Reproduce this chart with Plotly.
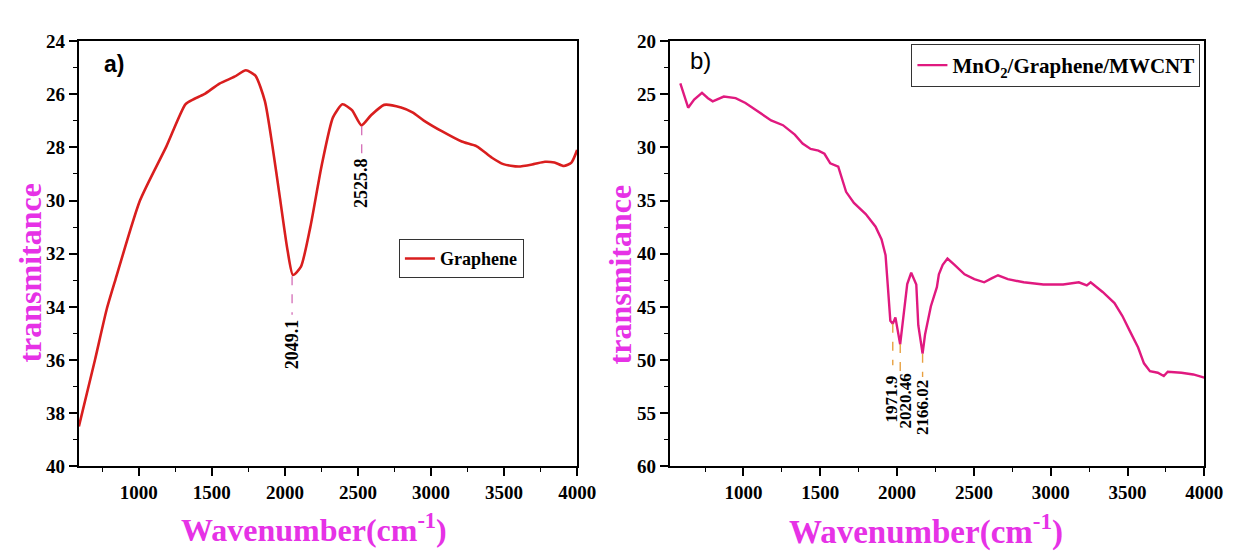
import plotly.graph_objects as go

# ---- Data: panel a) Graphene ----
g_x = [590, 700, 780, 839, 1008, 1189, 1319, 1370, 1448, 1552, 1655, 1733, 1798, 1863, 1915,
       1966, 2018, 2055, 2109, 2174, 2251, 2329, 2394, 2459, 2524, 2588, 2679, 2795, 2873,
       2951, 3080, 3210, 3313, 3417, 3495, 3598, 3702, 3780, 3845, 3909, 3961, 4000]
g_y = [38.5, 36.0, 34.1, 33.0, 30.0, 27.96, 26.38, 26.2, 26.0, 25.6, 25.34, 25.1, 25.3, 26.26, 27.96,
       29.9, 31.87, 32.8, 32.5, 31.0, 28.7, 26.87, 26.38, 26.6, 27.17, 26.8, 26.4, 26.5, 26.68,
       26.99, 27.41, 27.78, 27.96, 28.39, 28.63, 28.72, 28.63, 28.54, 28.57, 28.7, 28.57, 28.1]

# ---- Data: panel b) MnO2/Graphene/MWCNT ----
m_x = [589, 640, 679, 730, 769, 800, 872, 949, 1013, 1103, 1180, 1257, 1334, 1385, 1437, 1488,
       1527, 1565, 1617, 1668, 1719, 1796, 1860, 1899, 1925, 1940, 1956, 1972, 1989, 2020, 2048,
       2066, 2092, 2117, 2125, 2138, 2166, 2182, 2220, 2259, 2272, 2297, 2328, 2374, 2439, 2503,
       2567, 2618, 2657, 2721, 2824, 2952, 3081, 3183, 3235, 3260, 3338, 3415, 3466, 3517, 3569,
       3607, 3646, 3697, 3736, 3762, 3851, 3928, 4000]
m_y = [23.97, 26.27, 25.5, 24.87, 25.37, 25.67, 25.22, 25.37, 25.82, 26.72, 27.46, 27.91, 28.8, 29.64,
       30.15, 30.3, 30.6, 31.5, 31.8, 34.18, 35.22, 36.27, 37.46, 38.66, 40.15, 43.1, 46.3, 46.6, 45.99,
       48.52, 45.24, 42.85, 41.79, 42.54, 42.9, 46.73, 49.4, 47.6, 44.94, 43.15, 41.94, 41.04, 40.45,
       41.04, 41.94, 42.39, 42.69, 42.3, 42.03, 42.39, 42.69, 42.9, 42.9, 42.69, 42.99, 42.7, 43.6,
       44.64, 45.84, 47.33, 48.82, 50.31, 51.06, 51.2, 51.5, 51.1, 51.2, 51.36, 51.66]

# ---- Tick labels ----
x_ticks = [1000, 1500, 2000, 2500, 3000, 3500, 4000]
ya_ticks = [24, 26, 28, 30, 32, 34, 36, 38, 40]
yb_ticks = [20, 25, 30, 35, 40, 45, 50, 55, 60]

# ---- Peak labels ----
g_peaks = [2049.1, 2525.8]
g_peak_y = [32.85, 27.2]
g_line_end = [34.3, 28.3]
g_label_x = [2049.1, 2525.8]
g_label_y = [35.4, 29.35]
g_labels = ["2049.1", "2525.8"]

m_peaks = [1971.9, 2020.46, 2166.02]
m_peak_y = [46.6, 48.5, 49.4]
m_line_end = [50.5, 51.3, 51.6]
m_label_x = [1962, 2052, 2170]
m_label_y = [53.7, 53.9, 54.5]
m_labels = ["1971.9", "2020.46", "2166.02"]

RED = "#d91e1e"
PINK = "#e0197f"
MAG = "#e632e6"
SERIF = "Liberation Serif, Times New Roman, serif"
SANS = "Liberation Sans, Arial, sans-serif"


def bold(vals):
    return ["<b>%s</b>" % v for v in vals]


fig = go.Figure()
fig.add_trace(go.Scatter(x=g_x, y=g_y, mode="lines", name="<b>Graphene</b>",
                         line=dict(color=RED, width=2.6, shape="spline", smoothing=0.6),
                         xaxis="x", yaxis="y", legend="legend"))
fig.add_trace(go.Scatter(x=m_x, y=m_y, mode="lines", name="<b>MnO<sub>2</sub>/Graphene/MWCNT</b>",
                         line=dict(color=PINK, width=2.4),
                         xaxis="x2", yaxis="y2", legend="legend2"))

ax_common = dict(showline=True, linewidth=2, linecolor="black", mirror=True,
                 ticks="outside", ticklen=8, tickwidth=1.5, tickcolor="black",
                 showgrid=False, zeroline=False,
                 tickfont=dict(family=SERIF, size=19, color="black", weight="bold"))
minor_common = dict(ticks="outside", ticklen=4, tickcolor="black", tickwidth=1.2)

fig.update_layout(
    width=1239, height=553, margin=dict(l=0, r=0, t=0, b=0),
    plot_bgcolor="white", paper_bgcolor="white", showlegend=True,
    xaxis=dict(domain=[0.0581, 0.4665], range=[590, 4000], tickvals=x_ticks, ticktext=bold(x_ticks),
               minor=dict(dtick=250, tick0=0, **minor_common), anchor="y", **ax_common),
    yaxis=dict(domain=[0.1573, 0.9566], range=[40, 24], tickvals=ya_ticks, ticktext=bold(ya_ticks),
               minor=dict(dtick=1, tick0=0, **minor_common), anchor="x", **ax_common),
    xaxis2=dict(domain=[0.5424, 0.9806], range=[520, 4000], tickvals=x_ticks, ticktext=bold(x_ticks),
                minor=dict(dtick=250, tick0=0, **minor_common), anchor="y2", **ax_common),
    yaxis2=dict(domain=[0.1573, 0.9566], range=[60, 20], tickvals=yb_ticks, ticktext=bold(yb_ticks),
                minor=dict(dtick=2.5, tick0=0, **minor_common), anchor="x2", **ax_common),
    legend=dict(x=397 / 1239, y=1 - 230 / 553, xanchor="left", yanchor="top", bgcolor="white",
                bordercolor="#333", borderwidth=1, tracegroupgap=0,
                font=dict(family=SERIF, size=18, color="black")),
    legend2=dict(x=1211 / 1239, y=1 - 27 / 553, xanchor="right", yanchor="top", bgcolor="white",
                 bordercolor="#333", borderwidth=1,
                 font=dict(family=SERIF, size=21, color="black")),
)

# dashed peak markers and labels
for px, py, pe, lx, ly, lab in zip(g_peaks, g_peak_y, g_line_end, g_label_x, g_label_y, g_labels):
    fig.add_shape(type="line", x0=px, x1=px, y0=py, y1=pe, xref="x", yref="y",
                  line=dict(color="#d060b0", width=1.2, dash="dash"))
    fig.add_annotation(x=lx, y=ly, xref="x", yref="y", text="<b>" + lab + "</b>", showarrow=False,
                       xanchor="center", yanchor="middle",
                       textangle=-90, font=dict(family=SERIF, size=18, color="black"))

for px, py, pe, lx, ly, lab in zip(m_peaks, m_peak_y, m_line_end, m_label_x, m_label_y, m_labels):
    fig.add_shape(type="line", x0=px, x1=px, y0=py, y1=pe, xref="x2", yref="y2",
                  line=dict(color="#e8a040", width=1.4, dash="dash"))
    fig.add_annotation(x=lx, y=ly, xref="x2", yref="y2", text="<b>" + lab + "</b>", showarrow=False,
                       xanchor="center", yanchor="middle",
                       textangle=-90, font=dict(family=SERIF, size=17, color="black"))

W, H = 1239, 553


def px_note(xp, yp, text, font, angle=0):
    fig.add_annotation(x=xp / W, y=1 - yp / H, xref="paper", yref="paper", text=text,
                       showarrow=False, xanchor="center", yanchor="middle", textangle=angle,
                       font=font)


# panel letters
px_note(108, 48, "<b>a)</b>", dict(family=SANS, size=23, color="black"))
px_note(703, 44, "b)", dict(family=SANS, size=24, color="black"))

# axis titles
px_note(311, 530, "<b>Wavenumber(cm<sup>-1</sup>)</b>", dict(family=SERIF, size=32, color=MAG))
px_note(932, 532, "<b>Wavenumber(cm<sup>-1</sup>)</b>", dict(family=SERIF, size=33, color=MAG))
px_note(22, 265, "<b>transmitance</b>", dict(family=SERIF, size=32, color=MAG), -90)
px_note(621, 266, "<b>transmitance</b>", dict(family=SERIF, size=32, color=MAG), -90)

fig.write_html("out.html")
